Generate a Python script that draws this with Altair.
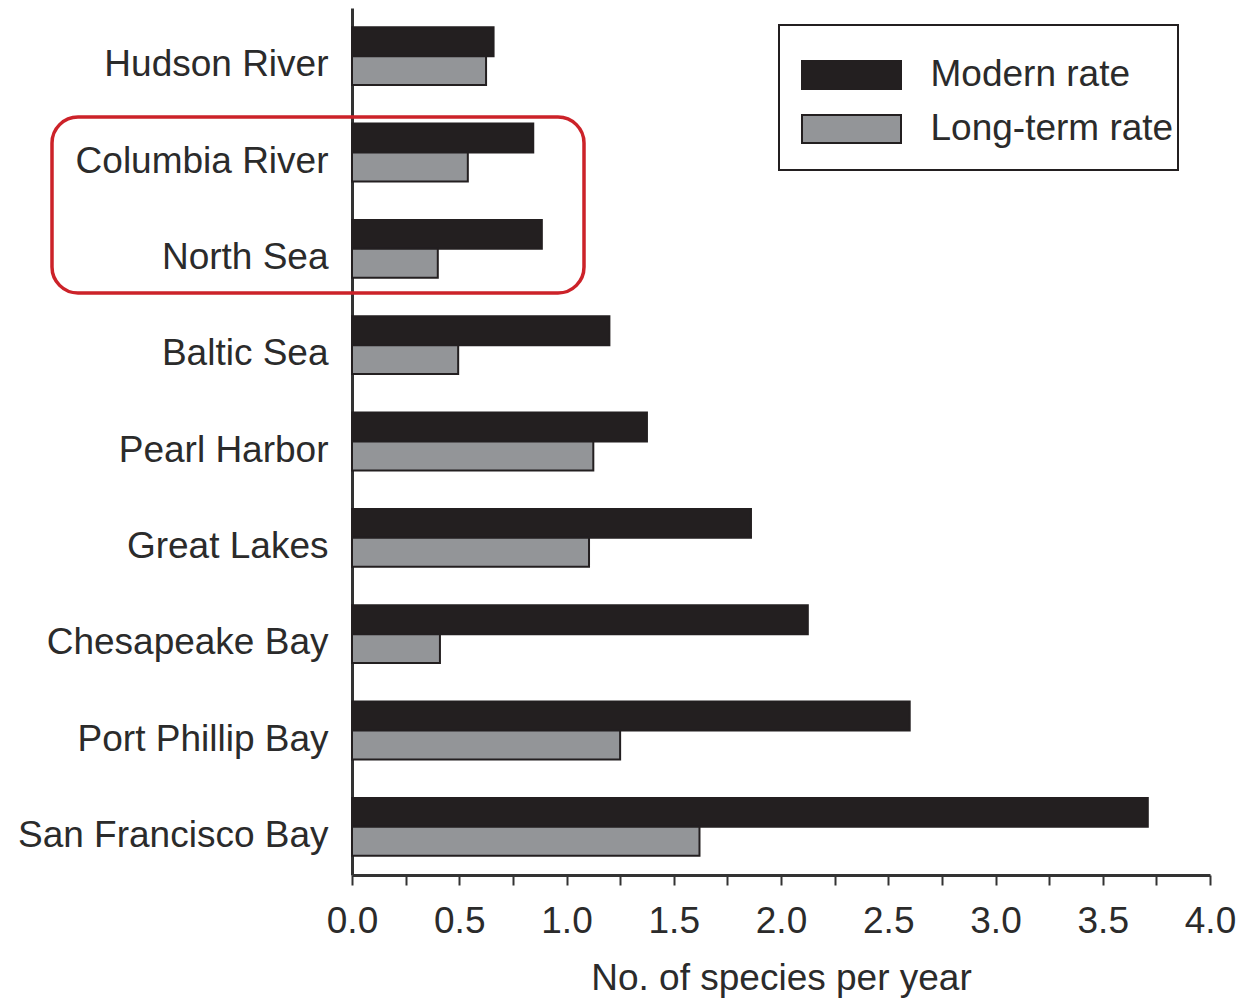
import altair as alt
import pandas as pd

# Introduction rates of non-native species by region
sites = [
    "Hudson River", "Columbia River", "North Sea", "Baltic Sea", "Pearl Harbor",
    "Great Lakes", "Chesapeake Bay", "Port Phillip Bay", "San Francisco Bay",
]
modern_rate = [0.66, 0.845, 0.885, 1.20, 1.375, 1.86, 2.125, 2.60, 3.71]
long_term_rate = [0.625, 0.54, 0.40, 0.495, 1.125, 1.105, 0.41, 1.25, 1.62]
series = ["Modern rate", "Long-term rate"]

rows = []
for s, m, l in zip(sites, modern_rate, long_term_rate):
    rows.append({"site": s, "series": series[0], "rate": m})
    rows.append({"site": s, "series": series[1], "rate": l})
df = pd.DataFrame(rows)

FONT = "Liberation Sans"
TEXT = "#2b2b2b"
INK = "#231f20"
FS = 37

tick_values = [i * 0.25 for i in range(17)]

bars = alt.Chart(df).mark_bar(stroke=INK, strokeWidth=2).encode(
    y=alt.Y(
        "site:N",
        sort=sites,
        scale=alt.Scale(paddingInner=0.4, paddingOuter=0.2),
        axis=alt.Axis(
            title=None, ticks=False, domainColor="#333333", domainWidth=3,
            labelFont=FONT, labelFontSize=FS, labelColor=TEXT,
            labelPadding=24, labelOffset=9, labelLimit=400,
        ),
    ),
    yOffset=alt.YOffset("series:N", sort=series, scale=alt.Scale(paddingInner=0)),
    x=alt.X(
        "rate:Q",
        scale=alt.Scale(domain=[0, 4], nice=False),
        axis=alt.Axis(
            title="No. of species per year", values=tick_values,
            labelExpr="(datum.value * 2) % 1 == 0 ? format(datum.value, '.1f') : ''",
            grid=False, domainColor="#333333", domainWidth=3,
            tickColor="#333333", tickWidth=2, tickSize=10,
            labelFont=FONT, labelFontSize=FS, labelColor=TEXT, labelPadding=18,
            labelFlush=False, labelOverlap=False,
            titleFont=FONT, titleFontSize=FS, titleFontWeight="normal",
            titleColor=TEXT, titlePadding=21,
        ),
    ),
    color=alt.Color(
        "series:N",
        sort=series,
        scale=alt.Scale(domain=series, range=[INK, "#939598"]),
        legend=alt.Legend(
            title=None, orient="none", legendX=480.5, legendY=48, padding=0,
            # wide flat swatch drawn around a 36px symbol cell
            symbolType="M-2.75,-0.778H2.75V0.778H-2.75Z", symbolSize=1296,
            symbolStrokeColor=INK, symbolStrokeWidth=2,
            labelFont=FONT, labelFontSize=FS, labelColor=TEXT,
            labelOffset=60, rowPadding=16, labelLimit=400,
        ),
    ),
)

one = alt.Data(values=[{}])

legend_box = alt.Chart(one).mark_rect(
    fillOpacity=0, stroke=INK, strokeWidth=2
).encode(
    x=alt.value(427), x2=alt.value(826), y=alt.value(17), y2=alt.value(162)
)

highlight = alt.Chart(one).mark_rect(
    fillOpacity=0, stroke="#cc2229", strokeWidth=3.5, cornerRadius=26
).encode(
    x=alt.value(-300), x2=alt.value(232), y=alt.value(109), y2=alt.value(285)
)

chart = alt.layer(bars, legend_box, highlight).properties(
    width=858,
    height=867,
    background="white",
    autosize=alt.AutoSizeParams(type="none"),
    padding={"left": 352, "top": 8, "right": 41, "bottom": 125},
).configure_view(strokeWidth=0)

chart.save("out.html", embed_options={"renderer": "svg", "actions": False})
